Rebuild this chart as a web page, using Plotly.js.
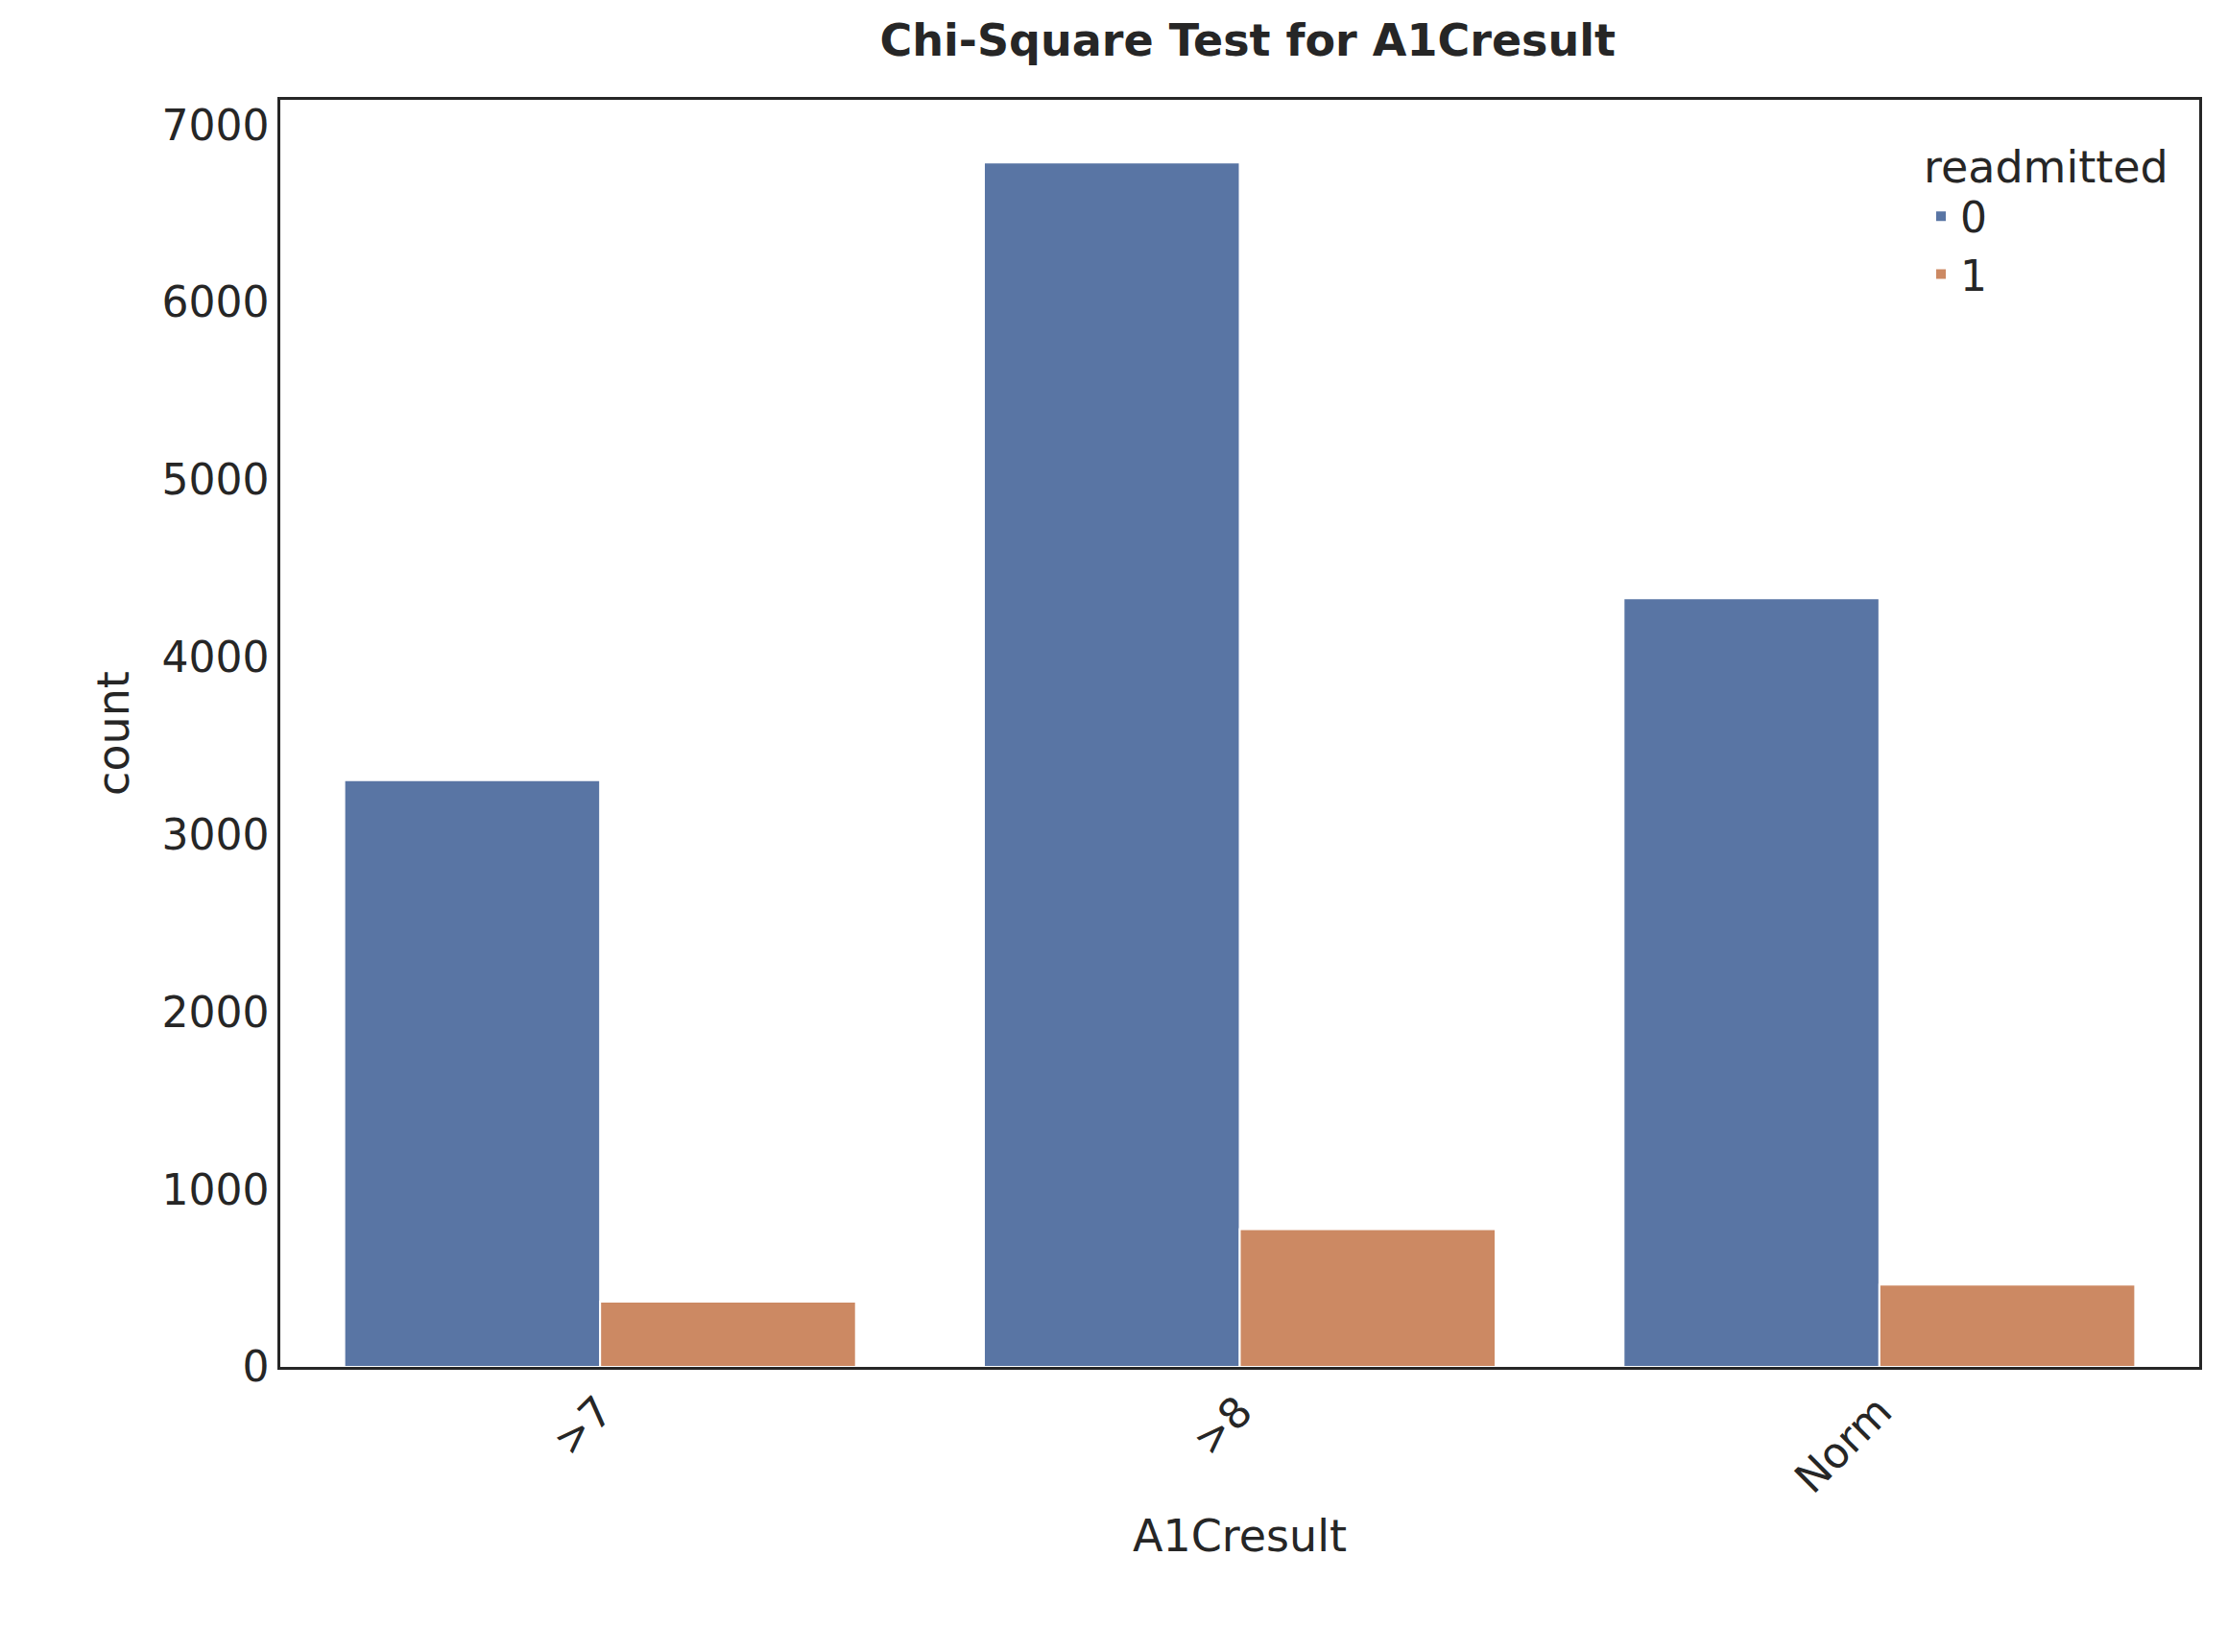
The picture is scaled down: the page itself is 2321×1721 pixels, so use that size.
<!DOCTYPE html>
<html><head><meta charset="utf-8">
<script src="https://cdn.plot.ly/plotly-3.0.1.min.js"></script>
<style>body{margin:0;background:#fff}</style></head>
<body><div id="c" style="width:2321px;height:1721px"></div>
<script>
const categories = [">7", ">8", "Norm"];
const readmitted0 = [3307, 6789, 4332];
const readmitted1 = [368, 777, 464];
const seriesNames = ["0", "1"];
const font = {family: "DejaVu Sans", color: "#262626"};
const mk = (y, name, color) => ({type: "bar", x: categories, y: y, name: name,
  marker: {color: color, line: {color: "#fff", width: 2}}});
Plotly.newPlot("c", [mk(readmitted0, seriesNames[0], "#5975a4"), mk(readmitted1, seriesNames[1], "#cc8963")], {
  width: 2321, height: 1721, paper_bgcolor: "#fff", plot_bgcolor: "#fff",
  margin: {l: 292, r: 30, t: 104, b: 297},
  barmode: "group", bargap: 0.2, bargroupgap: 0,
  font: Object.assign({size: 44}, font),
  title: {text: "<b>Chi-Square Test for A1Cresult</b>", x: 0.56, xanchor: "center", y: 0.985, yanchor: "top", font: Object.assign({size: 46}, font)},
  xaxis: {title: {text: "A1Cresult", font: Object.assign({size: 46}, font), standoff: 20}, tickangle: -45, tickfont: {size: 44},
    showline: true, linecolor: "#262626", linewidth: 2.5, mirror: true, ticks: ""},
  yaxis: {title: {text: "count", font: Object.assign({size: 46}, font), standoff: 20}, range: [0, 7142], dtick: 1000, tickfont: {size: 44},
    showgrid: false, zeroline: false, showline: true, linecolor: "#262626", linewidth: 2.5, mirror: true, ticks: ""},
  legend: {title: {text: "readmitted", font: {size: 46}}, x: 0.985, xanchor: "right", y: 0.98, yanchor: "top",
    bgcolor: "rgba(255,255,255,0.8)", font: {size: 44}}
}, {displayModeBar: false});
</script></body></html>
